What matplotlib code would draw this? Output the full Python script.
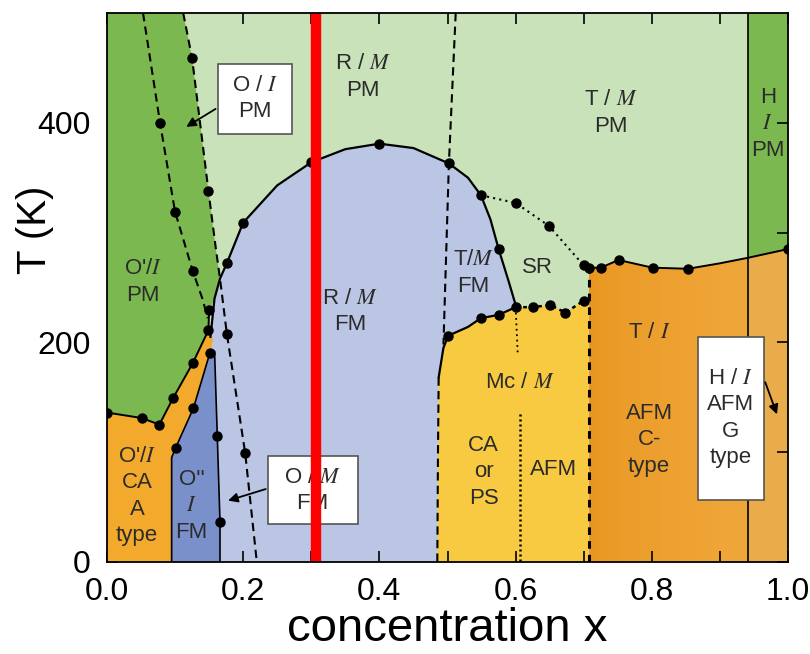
import matplotlib.pyplot as plt
import numpy as np
from matplotlib.patches import Polygon, Rectangle
from matplotlib.colors import LinearSegmentedColormap

plt.rcParams['font.family'] = ['Liberation Sans', 'DejaVu Sans']
plt.rcParams['mathtext.fontset'] = 'stix'

# --- phase boundaries: concentration x, T (K) ---
# ferromagnetic dome (Tc curve)
tc_x = [0.152, 0.158, 0.166, 0.176, 0.200, 0.250, 0.300, 0.350, 0.400,
        0.450, 0.502, 0.530, 0.549, 0.563, 0.575, 0.590, 0.600]
tc_T = [205, 240, 258, 272, 309, 343, 364, 376, 381, 377, 363, 350, 334,
        312, 285, 255, 234]
tc_dot_x = [0.176, 0.200, 0.300, 0.400, 0.502, 0.549, 0.575]
tc_dot_T = [272, 309, 364, 381, 363, 334, 285]

# lower edge of the O'/I PM region (towards the CA strip)
pm_low_x = [0.000, 0.051, 0.077, 0.097, 0.126, 0.149, 0.150]
pm_low_T = [136, 131, 125, 149, 181, 211, 229]

# O'' FM region edge (left side, top, right side)
ofm_x = [0.095, 0.095, 0.101, 0.127, 0.151, 0.158, 0.162, 0.166, 0.166]
ofm_T = [0, 95, 104, 140, 190, 192, 115, 36, 0]
ofm_dot_x = [0.101, 0.127, 0.151, 0.162, 0.166]
ofm_dot_T = [104, 140, 190, 115, 36]

# dashed lines crossing the low-x side
dash_l_x = [0.053, 0.078, 0.100, 0.126, 0.140, 0.148]
dash_l_T = [500, 400, 319, 265, 240, 222]
dash_r_x = [0.112, 0.125, 0.149, 0.160, 0.166, 0.176, 0.203, 0.220]
dash_r_T = [500, 459, 338, 285, 258, 208, 99, 0]
dash_dot_x = [0.078, 0.100, 0.126, 0.125, 0.149, 0.176, 0.203]
dash_dot_T = [400, 319, 265, 459, 338, 208, 99]

# R / T structural boundary near x = 0.5
rt_x = [0.512, 0.502, 0.497, 0.494]
rt_T = [500, 363, 260, 198]

# Mc region: left edge and top
mc_left_x = [0.485, 0.486, 0.487]
mc_left_T = [0, 100, 168]
mc_top_x = [0.487, 0.494, 0.501, 0.530, 0.549, 0.575, 0.600]
mc_top_T = [168, 195, 206, 214, 222, 225, 232]
mc_r_x = [0.600, 0.625, 0.651, 0.673, 0.700, 0.707]
mc_r_T = [232, 232, 234, 227, 238, 232]
mc_dot_x = [0.501, 0.549, 0.575, 0.600, 0.625, 0.651, 0.673, 0.700]
mc_dot_T = [206, 222, 225, 232, 232, 234, 227, 238]

# spin reorientation line
sr_x = [0.549, 0.600, 0.649, 0.700, 0.707]
sr_T = [334, 327, 306, 270, 268]
sr_dot_x = [0.600, 0.649, 0.700]
sr_dot_T = [327, 306, 270]

# Neel line of the T / I and H / I phases
tn_x = [0.707, 0.725, 0.751, 0.801, 0.853, 0.900, 0.941, 1.000]
tn_T = [268, 268, 275, 268, 267, 272, 277, 285]
tn_dot_x = [0.707, 0.725, 0.751, 0.801, 0.853, 1.000]
tn_dot_T = [268, 268, 275, 268, 267, 285]

x_ti = 0.707   # Mc | T/I boundary
x_h = 0.941    # T | H boundary
x_cut = 0.307  # highlighted composition

c_pm = '#C9E2BA'
c_pm_dark = '#7CB850'
c_fm = '#BBC6E4'
c_ofm = '#7A90CA'
c_ca = '#F3AA2C'
c_mc = '#F7CA42'
c_ti_a, c_ti_b = '#E8951E', '#F0A73A'
c_hi = '#EAAB4A'

fig = plt.figure(figsize=(8.1, 6.54), dpi=100)
ax = fig.add_axes([0.132, 0.141, 0.841, 0.839])
ax.set_xlim(0, 1)
ax.set_ylim(0, 500)
ax.set_facecolor(c_pm)

# FM dome
fm_poly = list(zip(tc_x, tc_T)) + list(zip(mc_top_x[::-1], mc_top_T[::-1])) \
    + list(zip(mc_left_x[::-1], mc_left_T[::-1])) + [(tc_x[0], 0)]
ax.add_patch(Polygon(fm_poly, closed=True, fc=c_fm, ec='none', zorder=1))

# Mc region
mc_poly = list(zip(mc_left_x, mc_left_T)) + list(zip(mc_top_x, mc_top_T)) \
    + list(zip(mc_r_x, mc_r_T)) + [(x_ti, 0)]
ax.add_patch(Polygon(mc_poly, closed=True, fc=c_mc, ec='none', zorder=1))

# T / I region, shaded darker towards its left edge
ti_poly = [(x_ti, 0)] + [(x, t) for x, t in zip(tn_x, tn_T) if x <= x_h] + [(x_h, 0)]
ti_patch = Polygon(ti_poly, closed=True, fc='none', ec='none', zorder=1)
ax.add_patch(ti_patch)
grad = np.linspace(0, 1, 256).reshape(1, -1) ** 0.6
cm_ti = LinearSegmentedColormap.from_list('ti', [c_ti_a, c_ti_b])
im = ax.imshow(grad, cmap=cm_ti, extent=[x_ti, x_h, 0, 300], aspect='auto',
               zorder=1, interpolation='bilinear')
im.set_clip_path(ti_patch)

# H regions
hi_poly = [(x_h, 0), (x_h, tn_T[-2]), (1, tn_T[-1]), (1, 0)]
ax.add_patch(Polygon(hi_poly, closed=True, fc=c_hi, ec='none', zorder=1))
hpm_poly = [(x_h, tn_T[-2]), (x_h, 500), (1, 500), (1, tn_T[-1])]
ax.add_patch(Polygon(hpm_poly, closed=True, fc=c_pm_dark, ec='none', zorder=1))

# O'/I PM region
pm_poly = [(0, 500)] + [(x, t) for x, t in zip(dash_r_x, dash_r_T) if t >= 258] \
    + [(0.158, 240)] + list(zip(pm_low_x[::-1], pm_low_T[::-1]))
ax.add_patch(Polygon(pm_poly, closed=True, fc=c_pm_dark, ec='none', zorder=2))

# O'/I CA region with its thin strip
ca_poly = [(0, 0)] + list(zip(ofm_x[:5], ofm_T[:5])) + [(0.156, 202)] \
    + list(zip(pm_low_x[-2::-1], pm_low_T[-2::-1]))
ax.add_patch(Polygon(ca_poly, closed=True, fc=c_ca, ec='none', zorder=2))

# O'' FM region
ax.add_patch(Polygon(list(zip(ofm_x, ofm_T)), closed=True, fc=c_ofm, ec='none', zorder=2))

# boundary lines
kw = dict(color='black', zorder=4)
ax.plot(tc_x, tc_T, lw=1.6, **kw)
ax.plot(pm_low_x, pm_low_T, lw=1.4, **kw)
ax.plot(ofm_x, ofm_T, lw=1.2, **kw)
ax.plot(dash_l_x, dash_l_T, lw=1.5, ls=(0, (4, 2.5)), **kw)
ax.plot(dash_r_x, dash_r_T, lw=1.5, ls=(0, (4, 2.5)), **kw)
ax.plot(rt_x, rt_T, lw=1.5, ls=(0, (4, 2.5)), **kw)
ax.plot(mc_left_x, mc_left_T, lw=1.5, ls=(0, (4, 2.5)), **kw)
ax.plot(mc_top_x, mc_top_T, lw=1.6, **kw)
ax.plot(mc_r_x, mc_r_T, lw=1.8, ls=(0, (1.5, 1.5)), **kw)
ax.plot(sr_x, sr_T, lw=1.5, ls=(0, (1, 2)), **kw)
ax.plot(tn_x, tn_T, lw=1.4, **kw)
ax.plot([x_ti, x_ti], [0, tn_T[0]], lw=2.2, ls=(0, (2.5, 2)), **kw)
ax.plot([x_h, x_h], [0, 500], lw=1.2, **kw)
ax.plot([0.600, 0.603], [232, 190], lw=1.3, ls=(0, (1, 2)), **kw)
ax.plot([0.607, 0.607], [135, 0], lw=1.8, ls=(0, (0.8, 1.2)), **kw)

# data points
dot = dict(marker='o', ms=6.5, color='black', ls='none', zorder=5)
ax.plot(tc_dot_x, tc_dot_T, **dot)
ax.plot(pm_low_x, pm_low_T, **dot)
ax.plot(ofm_dot_x, ofm_dot_T, **dot)
ax.plot(dash_dot_x, dash_dot_T, **dot)
ax.plot(mc_dot_x, mc_dot_T, **dot)
ax.plot(sr_dot_x, sr_dot_T, **dot)
ax.plot(tn_dot_x, tn_dot_T, **dot)

# phase labels
lab = dict(fontsize=16, color='#2b2b2b', ha='center', va='center', zorder=6,
           linespacing=1.35)
ax.text(0.376, 442, 'R / $M$\nPM', **lab)
ax.text(0.740, 409, 'T / $M$\nPM', **lab)
ax.text(0.970, 399, 'H\n$I$\nPM', **lab)
ax.text(0.053, 255, "O'/$I$\nPM", **lab)
ax.text(0.357, 228, 'R / $M$\nFM', **lab)
ax.text(0.538, 263, 'T/$M$\nFM', **lab)
ax.text(0.632, 268, 'SR', **lab)
ax.text(0.606, 163, 'Mc / $M$', **lab)
ax.text(0.553, 82, 'CA\nor\nPS', **lab)
ax.text(0.656, 84, 'AFM', **lab)
ax.text(0.796, 209, 'T / $I$', **lab)
ax.text(0.796, 111, 'AFM\nC-\ntype', **lab)
ax.text(0.044, 60, "O'/$I$\nCA\nA\ntype", **lab)
ax.text(0.124, 51, "O''\n$I$\nFM", **lab)

# boxed labels with arrows
box = dict(fc='white', ec='#555555', lw=1.2, zorder=6)
ax.add_patch(Rectangle((0.163, 390), 0.109, 64, **box))
ax.text(0.217, 422, 'O / $I$\nPM', **{**lab, 'zorder': 7})
ax.annotate('', xy=(0.113, 395), xytext=(0.163, 414), zorder=7,
            arrowprops=dict(arrowstyle='-|>', color='black', lw=1.3, mutation_scale=14))

ax.add_patch(Rectangle((0.237, 34), 0.131, 62, **box))
ax.text(0.302, 65, 'O / $M$\nFM', **{**lab, 'zorder': 7})
ax.annotate('', xy=(0.174, 55), xytext=(0.237, 67), zorder=7,
            arrowprops=dict(arrowstyle='-|>', color='black', lw=1.3, mutation_scale=14))

ax.add_patch(Rectangle((0.868, 56), 0.097, 149, **box))
ax.text(0.916, 131, 'H / $I$\nAFM\nG\ntype', **{**lab, 'zorder': 7})
ax.annotate('', xy=(0.985, 132), xytext=(0.965, 166), zorder=7,
            arrowprops=dict(arrowstyle='-|>', color='black', lw=1.3, mutation_scale=14))

# highlighted composition
ax.plot([x_cut, x_cut], [0, 500], color='#FF0000', lw=7.5, zorder=8, solid_capstyle='butt')

ax.set_xticks([0.0, 0.2, 0.4, 0.6, 0.8, 1.0])
ax.set_xticks(np.arange(0.1, 1.0, 0.2), minor=True)
ax.set_yticks([0, 200, 400])
ax.set_yticks([100, 300], minor=True)
ax.set_xticklabels(['0.0', '0.2', '0.4', '0.6', '0.8', '1.0'])
ax.tick_params(which='both', direction='in', top=True, right=True,
               length=8, width=1.2, labelsize=23)
ax.tick_params(axis='x', pad=11)
ax.tick_params(axis='y', pad=12)
for s in ax.spines.values():
    s.set_linewidth(1.3)
    s.set_zorder(9)
ax.set_xlabel('concentration x', fontsize=34, labelpad=0)
ax.set_ylabel('T (K)', fontsize=29)
ax.yaxis.set_label_coords(-0.077, 0.605)

fig.savefig('out.png', dpi=100)
